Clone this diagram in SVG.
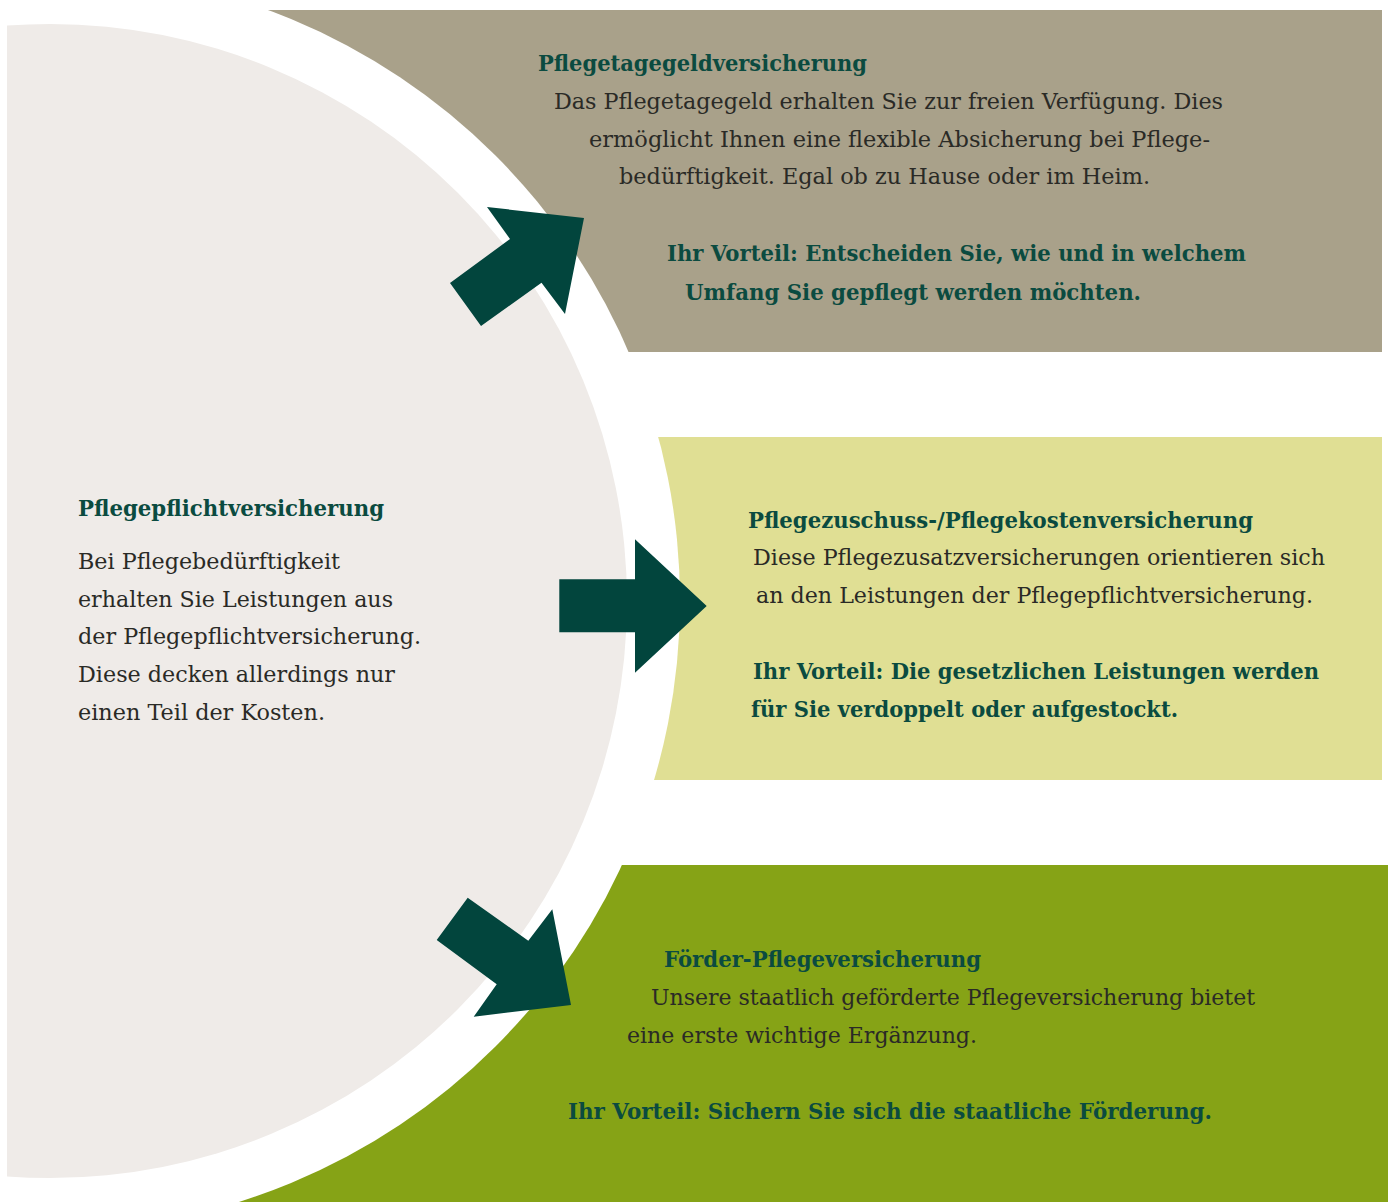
<svg xmlns="http://www.w3.org/2000/svg" width="1388" height="1202" viewBox="0 0 1388 1202">
<style>
.t{font-family:"DejaVu Serif","Liberation Serif",serif;font-weight:bold;font-size:22px;fill:#0b4b40}
.b{font-family:"DejaVu Serif","Liberation Serif",serif;font-size:23px;fill:#2a2a26}
.v{font-family:"DejaVu Serif","Liberation Serif",serif;font-weight:bold;font-size:23px;fill:#0b4b40}
.arrow{fill:#02453d}
</style>
<defs>
<clipPath id="clipL"><rect x="7" y="0" width="1381" height="1202"/></clipPath>
</defs>
<rect width="1388" height="1202" fill="#ffffff"/>
<g id="panel-top"><rect x="200" y="10" width="1182" height="342" fill="#a9a18a"/></g>
<g id="panel-mid"><rect x="600" y="437" width="782" height="343" fill="#e0df94"/></g>
<g id="panel-bot"><rect x="200" y="865" width="1188" height="337" fill="#86a316"/></g>
<circle cx="50" cy="601" r="630" fill="#ffffff"/>
<g id="circle-main"><circle cx="50" cy="601" r="577" fill="#efebe8" clip-path="url(#clipL)"/></g>
<g id="connectors">
<polygon class="arrow" points="487,207 584,218 565,314 541.5,282.7 481,326 450,283 510,239"/>
<polygon class="arrow" points="559.3,579.3 635,579.3 635,539.3 706.7,606 635,672.7 635,632.3 559.3,632.3"/>
<polygon class="arrow" points="467.7,897.7 528.3,940.7 552.3,909.3 571,1005 473.7,1016.7 496.7,984.3 436.7,940"/>
</g>
<g id="node-left">
<text class="t" x="78" y="516" textLength="306" lengthAdjust="spacingAndGlyphs">Pflegepflichtversicherung</text>
<text class="b" x="78" y="569" textLength="262" lengthAdjust="spacingAndGlyphs">Bei Pflegebedürftigkeit</text>
<text class="b" x="78" y="607" textLength="315" lengthAdjust="spacingAndGlyphs">erhalten Sie Leistungen aus</text>
<text class="b" x="78" y="644" textLength="343" lengthAdjust="spacingAndGlyphs">der Pflegepflichtversicherung.</text>
<text class="b" x="78" y="682" textLength="317" lengthAdjust="spacingAndGlyphs">Diese decken allerdings nur</text>
<text class="b" x="78" y="720" textLength="247" lengthAdjust="spacingAndGlyphs">einen Teil der Kosten.</text>
</g>
<g id="node-top">
<text class="t" x="538" y="71" textLength="329" lengthAdjust="spacingAndGlyphs">Pflegetagegeldversicherung</text>
<text class="b" x="554" y="109" textLength="669" lengthAdjust="spacingAndGlyphs">Das Pflegetagegeld erhalten Sie zur freien Verfügung. Dies</text>
<text class="b" x="589" y="147" textLength="621" lengthAdjust="spacingAndGlyphs">ermöglicht Ihnen eine flexible Absicherung bei Pflege-</text>
<text class="b" x="619" y="184" textLength="531" lengthAdjust="spacingAndGlyphs">bedürftigkeit. Egal ob zu Hause oder im Heim.</text>
<text class="v" x="667" y="261" textLength="579" lengthAdjust="spacingAndGlyphs">Ihr Vorteil: Entscheiden Sie, wie und in welchem</text>
<text class="v" x="685" y="300" textLength="456" lengthAdjust="spacingAndGlyphs">Umfang Sie gepflegt werden möchten.</text>
</g>
<g id="node-mid">
<text class="t" x="748" y="528" textLength="505" lengthAdjust="spacingAndGlyphs">Pflegezuschuss-/Pflegekostenversicherung</text>
<text class="b" x="753" y="565" textLength="572" lengthAdjust="spacingAndGlyphs">Diese Pflegezusatzversicherungen orientieren sich</text>
<text class="b" x="756" y="603" textLength="557" lengthAdjust="spacingAndGlyphs">an den Leistungen der Pflegepflichtversicherung.</text>
<text class="v" x="753" y="679" textLength="566" lengthAdjust="spacingAndGlyphs">Ihr Vorteil: Die gesetzlichen Leistungen werden</text>
<text class="v" x="751" y="717" textLength="427" lengthAdjust="spacingAndGlyphs">für Sie verdoppelt oder aufgestockt.</text>
</g>
<g id="node-bot">
<text class="t" x="664" y="967" textLength="317" lengthAdjust="spacingAndGlyphs">Förder-Pflegeversicherung</text>
<text class="b" x="651" y="1005" textLength="604" lengthAdjust="spacingAndGlyphs">Unsere staatlich geförderte Pflegeversicherung bietet</text>
<text class="b" x="627" y="1043" textLength="350" lengthAdjust="spacingAndGlyphs">eine erste wichtige Ergänzung.</text>
<text class="v" x="568" y="1119" textLength="644" lengthAdjust="spacingAndGlyphs">Ihr Vorteil: Sichern Sie sich die staatliche Förderung.</text>
</g>
</svg>
